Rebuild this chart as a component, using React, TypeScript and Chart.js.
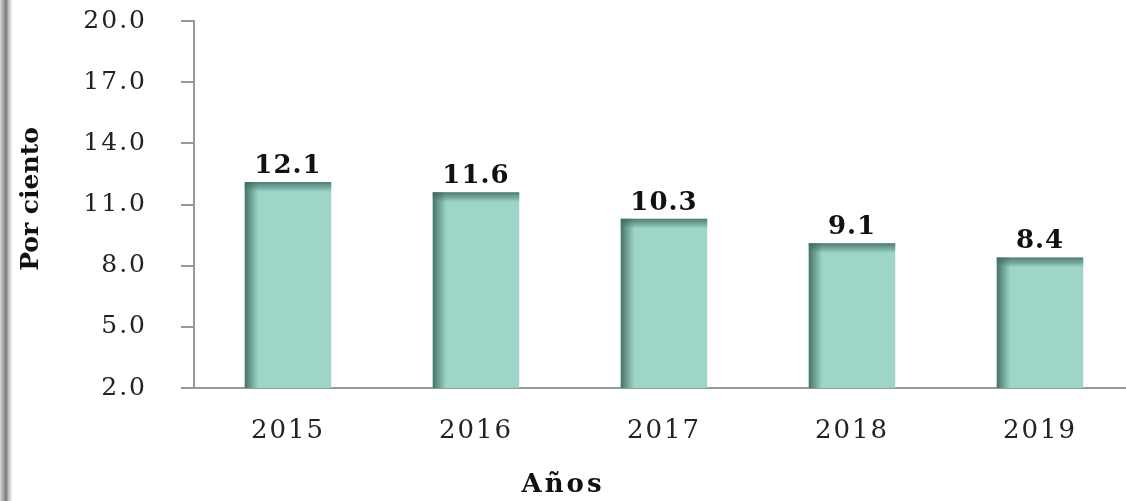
import React, { useEffect, useRef } from "react";
import { Chart, registerables } from "chart.js";

Chart.register(...registerables);

const years = ["2015", "2016", "2017", "2018", "2019"];
const values = [12.1, 11.6, 10.3, 9.1, 8.4];
const yTicks = [2, 5, 8, 11, 14, 17, 20];

const FONT = "'DejaVu Serif', 'Liberation Serif', serif";
const SHIFT = 28;

const barShade = {
  id: "barShade",
  beforeDraw(chart: any) {
    (chart.ctx as any).letterSpacing = "2px";
  },
  afterDatasetsDraw(chart: any) {
    const ctx = chart.ctx;
    const meta = chart.getDatasetMeta(0);
    const bottom = chart.chartArea.bottom;
    ctx.save();
    meta.data.forEach((el: any, i: number) => {
      const { x, y, width } = el.getProps(["x", "y", "width"], true);
      const left = x - width / 2;
      const h = bottom - y;
      let g = ctx.createLinearGradient(left, 0, left + 14, 0);
      g.addColorStop(0, "rgba(55,95,85,0.85)");
      g.addColorStop(0.5, "rgba(70,115,105,0.5)");
      g.addColorStop(1, "rgba(90,140,128,0)");
      ctx.fillStyle = g;
      ctx.fillRect(left, y, 14, h);
      g = ctx.createLinearGradient(0, y, 0, y + 10);
      g.addColorStop(0, "rgba(60,100,90,0.8)");
      g.addColorStop(0.6, "rgba(70,115,105,0.4)");
      g.addColorStop(1, "rgba(90,140,128,0)");
      ctx.fillStyle = g;
      ctx.fillRect(left, y, width, 10);
      ctx.fillStyle = "#111";
      ctx.font = `bold 26px ${FONT}`;
      (ctx as any).letterSpacing = "1px";
      ctx.textAlign = "center";
      ctx.textBaseline = "bottom";
      ctx.fillText(values[i].toFixed(1), x, y - 3);
    });
    ctx.restore();
  },
  afterDraw(chart: any) {
    const ctx = chart.ctx;
    ctx.save();
    ctx.fillStyle = "#111";
    ctx.font = `bold 26px ${FONT}`;
    (ctx as any).letterSpacing = "3px";
    ctx.textAlign = "center";
    ctx.textBaseline = "middle";
    ctx.fillText("Años", 563, 485 + SHIFT);
    ctx.restore();
    ctx.save();
    ctx.fillStyle = "#111";
    ctx.font = `bold 25px ${FONT}`;
    (ctx as any).letterSpacing = "0px";
    ctx.translate(31, 199 + SHIFT);
    ctx.rotate(-Math.PI / 2);
    ctx.textAlign = "center";
    ctx.textBaseline = "middle";
    ctx.fillText("Por ciento", 0, 0);
    ctx.restore();
  },
};

export default function App() {
  const ref = useRef<HTMLCanvasElement>(null);
  useEffect(() => {
    if (!ref.current) return;
    const chart = new Chart(ref.current, {
      type: "bar",
      data: {
        labels: years,
        datasets: [
          {
            data: values,
            backgroundColor: "#9dd6c8",
            borderWidth: 0,
            barPercentage: 0.46,
            categoryPercentage: 1,
          },
        ],
      },
      options: {
        animation: false,
        responsive: false,
        layout: { padding: { top: 0, right: 2, left: 0, bottom: 0 } },
        plugins: { legend: { display: false }, tooltip: { enabled: false } },
        scales: {
          x: {
            grid: { display: false, drawTicks: false },
            border: { color: "#999", width: 2 },
            ticks: {
              color: "#222",
              font: { family: FONT, size: 26 },
              padding: 28,
            },
            afterFit: (s: any) => {
              s.height = 113;
            },
          },
          y: {
            min: 2,
            max: 20,
            afterBuildTicks: (s: any) => {
              s.ticks = yTicks.map((v) => ({ value: v }));
            },
            grid: { drawOnChartArea: false, tickLength: 13, color: "#999", lineWidth: 2 },
            border: { color: "#999", width: 2 },
            ticks: {
              color: "#222",
              font: { family: FONT, size: 25 },
              padding: 34,
              callback: (v: any) => Number(v).toFixed(1),
            },
            afterFit: (s: any) => {
              s.width = 194;
            },
          },
        },
      },
      plugins: [barShade],
    });
    return () => chart.destroy();
  }, []);
  return (
    <div
      style={{
        position: "fixed",
        left: 0,
        top: 0,
        width: 1126,
        height: 501,
        overflow: "hidden",
        background: "#fff",
      }}
    >
      <canvas
        ref={ref}
        width={1136}
        height={501 + SHIFT}
        style={{ display: "block", position: "absolute", left: 0, top: -SHIFT }}
      />
      <div
        style={{
          position: "absolute",
          left: 0,
          top: 0,
          width: 12,
          height: 501,
          background:
            "linear-gradient(to right, #d8d8d8 0px, #9a9a9a 4px, #7a7a7a 6px, #c8c8c8 9px, #f2f2f2 12px)",
        }}
      />
    </div>
  );
}
